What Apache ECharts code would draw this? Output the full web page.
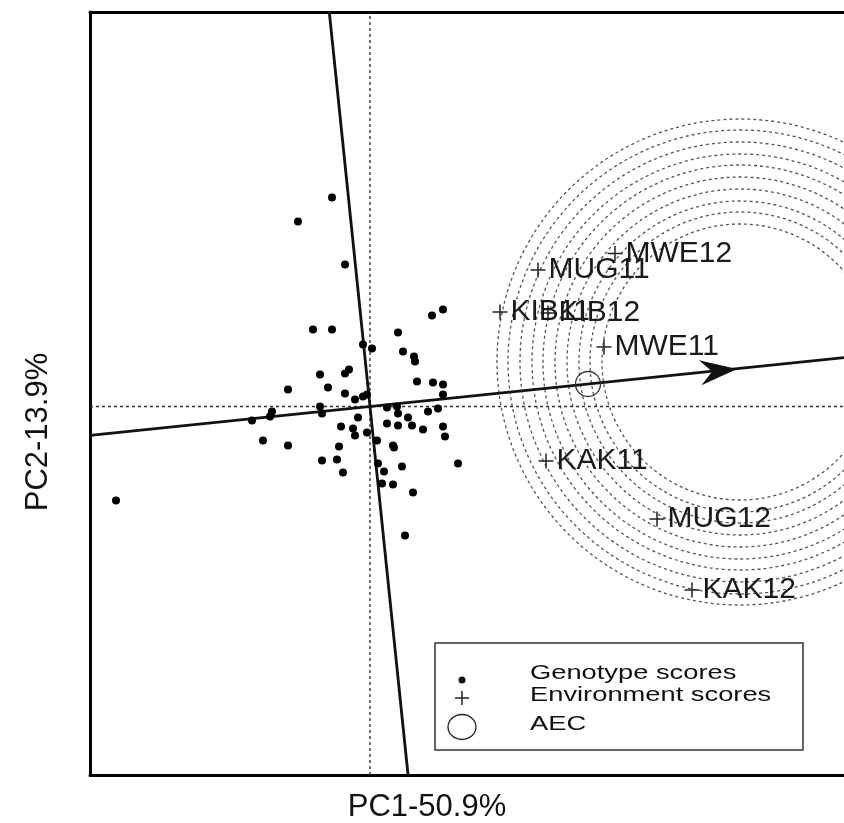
<!DOCTYPE html>
<html><head><meta charset="utf-8">
<script src="https://cdn.jsdelivr.net/npm/echarts@6/dist/echarts.min.js"></script>
<style>html,body{margin:0;padding:0;background:#fff}#c{width:844px;height:823px}</style>
</head><body><div id="c"></div><script>
// ---- data (biplot scores) ----
const genotypeX = [-0.38,-0.72,-0.25,-0.57,-0.38,0.62,0.73,0.28,-0.07,0.02,0.33,0.44,0.45,-0.21,-0.25,-0.50,0.47,0.63,0.73,-0.82,-0.42,-0.25,0.73,-0.15,-0.07,-0.03,-0.50,-0.48,-0.98,-1.00,-1.18,0.17,0.27,0.28,0.58,0.68,-0.12,0.17,0.28,0.38,0.42,0.53,0.73,0.75,-0.29,-0.17,-0.15,-0.03,0.07,-1.07,-0.82,-0.31,0.23,0.24,-0.48,-0.33,-0.27,0.08,0.14,0.32,0.88,0.12,0.23,0.43,0.35,-2.54];
const genotypeY = [2.09,1.85,1.42,0.77,0.77,0.91,0.97,0.74,0.62,0.58,0.55,0.50,0.45,0.37,0.33,0.32,0.25,0.24,0.22,0.17,0.19,0.13,0.12,0.07,0.10,0.12,0.00,-0.07,-0.05,-0.10,-0.14,-0.01,0.00,-0.07,-0.05,-0.02,-0.11,-0.17,-0.19,-0.11,-0.19,-0.23,-0.20,-0.30,-0.20,-0.22,-0.29,-0.26,-0.34,-0.34,-0.39,-0.40,-0.39,-0.41,-0.54,-0.53,-0.66,-0.57,-0.65,-0.60,-0.57,-0.77,-0.78,-0.86,-1.29,-0.94];
const envNames = ['MWE12','MUG11','KIB11','KIB12','MWE11','KAK11','MUG12','KAK12'];
const envX = [2.45,1.68,1.30,1.78,2.34,1.76,2.87,3.22];
const envY = [1.53,1.365,0.945,0.935,0.595,-0.545,-1.125,-1.835];
const aecPoint = [2.18, 0.225];
const arrowTip = [3.67, 0.375];
const circleCenter = [3.70, 0.445];
const circleRadii = [1.38,1.50,1.61,1.73,1.85,1.97,2.08,2.20,2.32,2.43];
const xRange = [-2.8, 4.74];
const yRange = [-3.685, 3.945];
const axisTitles = ['PC1-50.9%', 'PC2-13.9%'];
const legendLabels = ['Genotype scores','Environment scores','AEC'];

// ---- derived ----
const slope = aecPoint[1] / aecPoint[0];
const aecLine = [[xRange[0], slope * xRange[0]], [xRange[1], slope * xRange[1]]];
const perpLine = [[-slope * yRange[0], yRange[0]], [-slope * yRange[1], yRange[1]]];
const vDotted = [[0, yRange[0]], [0, yRange[1]]];
const hDotted = [[xRange[0], 0], [xRange[1], 0]];
const FONT = '"Liberation Sans", Arial, Helvetica, sans-serif';
const plusPath = 'path://M-0.1,-1H0.1V-0.1H1V0.1H0.1V1H-0.1V0.1H-1V-0.1H-0.1Z';

const chart = echarts.init(document.getElementById('c'), null, {renderer: 'canvas'});
const frameLine = {show: true, onZero: false, lineStyle: {color: '#000', width: 3}};
const axisBase = (r, pos) => ({type: 'value', min: r[0], max: r[1], position: pos, axisLine: frameLine,
  axisTick: {show: false}, axisLabel: {show: false}, splitLine: {show: false}});

chart.setOption({
  animation: false,
  backgroundColor: '#fff',
  grid: {left: 90, right: 0, top: 12, bottom: 48, show: false},
  xAxis: [axisBase(xRange, 'bottom'), axisBase(xRange, 'top')],
  yAxis: axisBase(yRange, 'left'),
  series: [
    {type: 'custom', z: 1, silent: true,
     data: circleRadii.map(r => [circleCenter[0], circleCenter[1], r]),
     renderItem: (p, api) => {
       const c = api.coord([api.value(0), api.value(1)]);
       const r = api.size([api.value(2), 0])[0];
       return {type: 'circle', shape: {cx: c[0], cy: c[1], r: r},
               style: {fill: 'none', stroke: '#555', lineWidth: 1.3, lineDash: [3, 3]}};
     }},
    {type: 'line', z: 2, data: vDotted, symbol: 'none', silent: true,
     lineStyle: {color: '#333', width: 1.4, type: [3, 3]}},
    {type: 'line', z: 2, data: hDotted, symbol: 'none', silent: true,
     lineStyle: {color: '#333', width: 1.4, type: [3, 3]}},
    {type: 'line', z: 3, data: aecLine, symbol: 'none', silent: true,
     lineStyle: {color: '#111', width: 2.8}},
    {type: 'line', z: 3, data: perpLine, symbol: 'none', silent: true,
     lineStyle: {color: '#111', width: 2.8}},
    {type: 'custom', z: 4, silent: true, data: [arrowTip],
     renderItem: (p, api) => {
       const tip = api.coord([api.value(0), api.value(1)]);
       const o = api.coord([0, 0]);
       let dx = tip[0] - o[0], dy = tip[1] - o[1];
       const len = Math.hypot(dx, dy); dx /= len; dy /= len;
       const nx = -dy, ny = dx, L = 37, W = 12.5, N = 25;
       return {type: 'polygon', shape: {points: [
         tip,
         [tip[0] - L * dx + W * nx, tip[1] - L * dy + W * ny],
         [tip[0] - N * dx, tip[1] - N * dy],
         [tip[0] - L * dx - W * nx, tip[1] - L * dy - W * ny]]},
         style: {fill: '#111'}};
     }},
    {type: 'custom', z: 5, silent: true, name: 'AEC', data: [aecPoint],
     renderItem: (p, api) => {
       const c = api.coord([api.value(0), api.value(1)]);
       return {type: 'circle', shape: {cx: c[0], cy: c[1], r: 12.5},
               style: {fill: 'none', stroke: '#333', lineWidth: 1.3}};
     }},
    {type: 'scatter', z: 6, name: 'Genotype scores', symbol: 'circle', symbolSize: 8,
     data: genotypeX.map((x, i) => [x, genotypeY[i]]), itemStyle: {color: '#000', opacity: 1}},
    {type: 'scatter', z: 7, name: 'Environment scores', symbol: plusPath, symbolSize: 15,
     data: envNames.map((n, i) => ({name: n, value: [envX[i], envY[i]]})),
     itemStyle: {color: '#222', opacity: 1},
     label: {show: true, position: 'right', distance: 3, formatter: '{b}',
             fontFamily: FONT, fontSize: 30, color: '#1a1a1a', opacity: 1},
     labelLayout: {hideOverlap: false}}
  ],
  graphic: [
    {type: 'text', x: 427, y: 807, style: {text: axisTitles[0], fontFamily: FONT, fontSize: 31, fill: '#111', textAlign: 'center', textVerticalAlign: 'middle', align: 'center', verticalAlign: 'middle'}},
    {type: 'text', x: 38, y: 432, rotation: Math.PI / 2, style: {text: axisTitles[1], fontFamily: FONT, fontSize: 31, fill: '#111', textAlign: 'center', textVerticalAlign: 'middle', align: 'center', verticalAlign: 'middle'}},
    {type: 'rect', shape: {x: 435, y: 643, width: 368, height: 107}, style: {fill: '#fff', stroke: '#333', lineWidth: 1.5}, z: 100},
    {type: 'circle', shape: {cx: 462, cy: 680, r: 3.5}, style: {fill: '#111'}, z: 101},
    {type: 'line', shape: {x1: 455, y1: 698, x2: 469, y2: 698}, style: {stroke: '#222', lineWidth: 1.5}, z: 101},
    {type: 'line', shape: {x1: 462, y1: 691, x2: 462, y2: 705}, style: {stroke: '#222', lineWidth: 1.5}, z: 101},
    {type: 'ellipse', shape: {cx: 462, cy: 727, rx: 14, ry: 12.5}, style: {fill: 'none', stroke: '#222', lineWidth: 1.3}, z: 101},
    {type: 'text', x: 530, y: 673.5, scaleX: 1.3, z: 101, style: {text: legendLabels[0], fontFamily: FONT, fontSize: 21, fill: '#111', textAlign: 'left', textVerticalAlign: 'middle', align: 'left', verticalAlign: 'middle'}},
    {type: 'text', x: 530, y: 695.5, scaleX: 1.3, z: 101, style: {text: legendLabels[1], fontFamily: FONT, fontSize: 21, fill: '#111', textAlign: 'left', textVerticalAlign: 'middle', align: 'left', verticalAlign: 'middle'}},
    {type: 'text', x: 530, y: 724.5, scaleX: 1.3, z: 101, style: {text: legendLabels[2], fontFamily: FONT, fontSize: 21, fill: '#111', textAlign: 'left', textVerticalAlign: 'middle', align: 'left', verticalAlign: 'middle'}}
  ]
});
</script></body></html>
